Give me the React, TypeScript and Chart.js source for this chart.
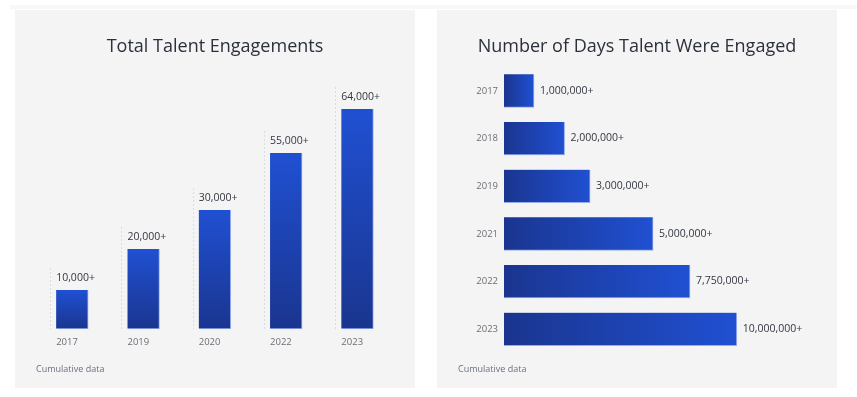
import React, { useEffect, useRef } from "react";
import { Chart, registerables } from "chart.js";

Chart.register(...registerables);

// ---- Data ----
const engagementYears = ["2017", "2019", "2020", "2022", "2023"];
const engagementBars = [9750, 20000, 29750, 44000, 55000];
const engagementLabels = ["10,000+", "20,000+", "30,000+", "55,000+", "64,000+"];

const dayYears = ["2017", "2018", "2019", "2021", "2022", "2023"];
const dayBars = [1000000, 2020000, 2870000, 4970000, 6200000, 7760000];
const dayLabels = ["1,000,000+", "2,000,000+", "3,000,000+", "5,000,000+", "7,750,000+", "10,000,000+"];

const FONT = "'Open Sans', sans-serif";
const BRIGHT = "#2050d2";
const DARK = "#1a358f";

const ok = (...v: number[]) => v.every((n) => Number.isFinite(n));

function VerticalChart() {
  const ref = useRef<HTMLCanvasElement>(null);
  useEffect(() => {
    const canvas = ref.current!;
    const annot = {
      id: "annot",
      beforeDatasetsDraw(chart: any) {
        const ctx = chart.ctx;
        const meta = chart.getDatasetMeta(0);
        ctx.save();
        ctx.strokeStyle = "#dcdcdc";
        ctx.lineWidth = 1;
        ctx.setLineDash([2, 2]);
        meta.data.forEach((bar: any) => {
          const x = Math.round(bar.x - bar.width / 2 - 6) + 0.5;
          ctx.beginPath();
          ctx.moveTo(x, bar.y - 22);
          ctx.lineTo(x, bar.base);
          ctx.stroke();
        });
        ctx.restore();
      },
      afterDatasetsDraw(chart: any) {
        const ctx = chart.ctx;
        const meta = chart.getDatasetMeta(0);
        ctx.save();
        ctx.textAlign = "left";
        ctx.textBaseline = "middle";
        meta.data.forEach((bar: any, i: number) => {
          const left = bar.x - bar.width / 2;
          ctx.fillStyle = "#333740";
          ctx.font = `10.5px ${FONT}`;
          ctx.fillText(engagementLabels[i], left, bar.y - 12);
          ctx.fillStyle = "#6b6e76";
          ctx.font = `9.5px ${FONT}`;
          ctx.fillText(engagementYears[i], left, bar.base + 13);
        });
        ctx.restore();
      },
    };
    const chart = new Chart(canvas, {
      type: "bar",
      data: {
        labels: engagementYears,
        datasets: [
          {
            data: engagementBars,
            backgroundColor: (c: any) => {
              const ch = c.chart;
              const y = ch.scales?.y;
              if (!y || !c.parsed || c.parsed.y == null) return BRIGHT;
              const top = y.getPixelForValue(c.parsed.y);
              const bot = y.getPixelForValue(0);
              if (!ok(top, bot) || top === bot) return BRIGHT;
              const g = ch.ctx.createLinearGradient(0, top, 0, bot);
              g.addColorStop(0, BRIGHT);
              g.addColorStop(1, DARK);
              return g;
            },
            borderColor: "rgba(140,165,235,0.9)",
            borderWidth: { top: 0, left: 0, right: 1, bottom: 1 },
            borderSkipped: false,
            barThickness: 32,
          },
        ],
      },
      options: {
        animation: false,
        responsive: false,
        layout: { padding: { left: 21.5, right: 22, top: 59, bottom: 59 } },
        plugins: { legend: { display: false }, tooltip: { enabled: false }, title: { display: false } },
        scales: {
          x: { display: false },
          y: { display: false, min: 0, max: 65000 },
        },
      },
      plugins: [annot],
    });
    return () => chart.destroy();
  }, []);
  return <canvas ref={ref} width={400} height={378} style={{ position: "absolute", left: 0, top: 0 }} />;
}

function HorizontalChart() {
  const ref = useRef<HTMLCanvasElement>(null);
  useEffect(() => {
    const canvas = ref.current!;
    const annot = {
      id: "annot2",
      afterDatasetsDraw(chart: any) {
        const ctx = chart.ctx;
        const meta = chart.getDatasetMeta(0);
        ctx.save();
        ctx.textAlign = "left";
        ctx.textBaseline = "middle";
        ctx.fillStyle = "#333740";
        ctx.font = `10.5px ${FONT}`;
        meta.data.forEach((bar: any, i: number) => {
          ctx.fillText(dayLabels[i], bar.x + 6, bar.y);
        });
        ctx.restore();
      },
    };
    const chart = new Chart(canvas, {
      type: "bar",
      data: {
        labels: dayYears,
        datasets: [
          {
            data: dayBars,
            backgroundColor: (c: any) => {
              const ch = c.chart;
              const x = ch.scales?.x;
              if (!x || !c.parsed || c.parsed.x == null) return BRIGHT;
              const l = x.getPixelForValue(0);
              const r = x.getPixelForValue(c.parsed.x);
              if (!ok(l, r) || l === r) return BRIGHT;
              const g = ch.ctx.createLinearGradient(l, 0, r, 0);
              g.addColorStop(0, DARK);
              g.addColorStop(1, BRIGHT);
              return g;
            },
            borderColor: "rgba(140,165,235,0.9)",
            borderWidth: { top: 0, left: 0, right: 1, bottom: 1 },
            borderSkipped: false,
            barThickness: 33,
          },
        ],
      },
      options: {
        indexAxis: "y",
        animation: false,
        responsive: false,
        layout: { padding: { left: 20, right: 33, top: 57, bottom: 35 } },
        plugins: { legend: { display: false }, tooltip: { enabled: false }, title: { display: false } },
        scales: {
          x: { display: false, min: 0, max: 10000000 },
          y: {
            grid: { display: false, drawTicks: false },
            border: { display: false },
            ticks: { color: "#6b6e76", font: { family: FONT, size: 9.5 }, padding: 6 },
            afterFit: (s: any) => {
              s.width = 47;
            },
          },
        },
      },
      plugins: [annot],
    });
    return () => chart.destroy();
  }, []);
  return <canvas ref={ref} width={400} height={378} style={{ position: "absolute", left: 0, top: 0 }} />;
}

const panel: React.CSSProperties = {
  position: "absolute",
  top: 10,
  width: 400,
  height: 378,
  background: "#f4f4f4",
};

const titleStyle: React.CSSProperties = {
  position: "absolute",
  left: 0,
  width: 400,
  top: 23,
  textAlign: "center",
  fontFamily: FONT,
  fontSize: 18,
  color: "#2b303b",
  lineHeight: "24px",
  zIndex: 2,
  whiteSpace: "nowrap",
};

const noteStyle: React.CSSProperties = {
  position: "absolute",
  top: 353,
  fontFamily: FONT,
  fontSize: 9,
  color: "#6b7080",
  lineHeight: "12px",
  zIndex: 2,
  whiteSpace: "nowrap",
};

export default function App() {
  return (
    <div style={{ position: "absolute", left: 0, top: 0, width: 857, height: 397, background: "#ffffff", overflow: "hidden" }}>
      <div style={{ position: "absolute", left: 10, top: 5, width: 847, height: 4, background: "#f8f8f8" }} />
      <div style={{ ...panel, left: 15 }}>
        <VerticalChart />
        <div style={titleStyle}>Total Talent Engagements</div>
        <div style={{ ...noteStyle, left: 21 }}>Cumulative data</div>
      </div>
      <div style={{ ...panel, left: 437 }}>
        <HorizontalChart />
        <div style={titleStyle}>Number of Days Talent Were Engaged</div>
        <div style={{ ...noteStyle, left: 21 }}>Cumulative data</div>
      </div>
    </div>
  );
}
